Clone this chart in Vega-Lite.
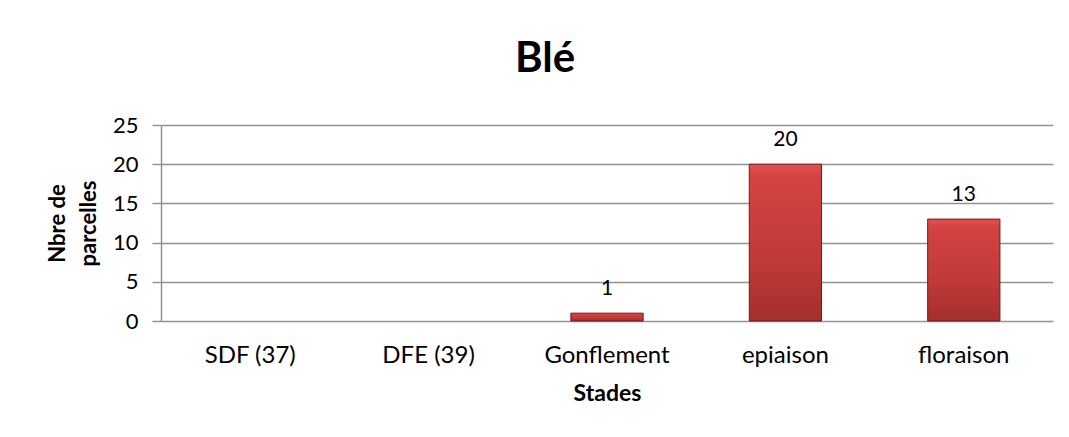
{
  "$schema": "https://vega.github.io/schema/vega-lite/v6.json",
  "width": 892,
  "height": 196,
  "autosize": {"type": "none"},
  "padding": {"left": 161, "top": 125, "right": 16, "bottom": 116},
  "background": "white",
  "title": {
    "text": "Blé",
    "font": "Lato",
    "fontSize": 42,
    "fontWeight": "bold",
    "color": "#000000",
    "anchor": "middle",
    "baseline": "alphabetic",
    "dx": -62,
    "offset": 0
  },
  "data": {
    "values": [
      {"stade": "SDF (37)", "n": null},
      {"stade": "DFE (39)", "n": null},
      {"stade": "Gonflement", "n": 1},
      {"stade": "epiaison", "n": 20},
      {"stade": "floraison", "n": 13}
    ]
  },
  "encoding": {
    "x": {
      "field": "stade",
      "type": "nominal",
      "sort": null,
      "scale": {
        "domain": ["SDF (37)", "DFE (39)", "Gonflement", "epiaison", "floraison"],
        "paddingInner": 0.595,
        "paddingOuter": 0.2975
      },
      "axis": {
        "title": "Stades",
        "titleFont": "Lato",
        "titleFontSize": 23,
        "titleFontWeight": "bold",
        "titleColor": "#000000",
        "titlePadding": 15,
        "labelFont": "Lato",
        "labelFontSize": 24,
        "labelColor": "#000000",
        "labelAngle": 0,
        "labelPadding": 22,
        "domain": false,
        "ticks": false,
        "grid": false
      }
    },
    "y": {
      "field": "n",
      "type": "quantitative",
      "scale": {"domain": [0, 25]},
      "axis": {
        "values": [0, 5, 10, 15, 20, 25],
        "title": ["Nbre de", "parcelles"],
        "titleFont": "Lato",
        "titleFontSize": 22,
        "titleFontWeight": "bold",
        "titleColor": "#000000",
        "titleLineHeight": 31,
        "titlePadding": 12,
        "labelFont": "Lato",
        "labelFontSize": 22,
        "labelColor": "#000000",
        "labelPadding": 14,
        "domainColor": "#939393",
        "domainWidth": 1.5,
        "tickColor": "#939393",
        "tickWidth": 1.5,
        "tickSize": 9,
        "grid": true,
        "gridColor": "#939393",
        "gridWidth": 1.5
      }
    }
  },
  "layer": [
    {
      "mark": {
        "type": "bar",
        "stroke": "#6e1d1a",
        "strokeWidth": 1,
        "color": {
          "gradient": "linear",
          "x1": 0, "y1": 0, "x2": 0, "y2": 1,
          "stops": [
            {"offset": 0, "color": "#e0524d"},
            {"offset": 0.08, "color": "#d44341"},
            {"offset": 0.6, "color": "#c03a38"},
            {"offset": 1, "color": "#a32f2d"}
          ]
        }
      }
    },
    {
      "transform": [{"filter": "datum.n != null"}],
      "mark": {
        "type": "text",
        "font": "Lato",
        "fontSize": 21,
        "color": "#000000",
        "baseline": "alphabetic",
        "dy": -18
      },
      "encoding": {"text": {"field": "n", "type": "quantitative"}}
    }
  ],
  "config": {"view": {"stroke": null}}
}
